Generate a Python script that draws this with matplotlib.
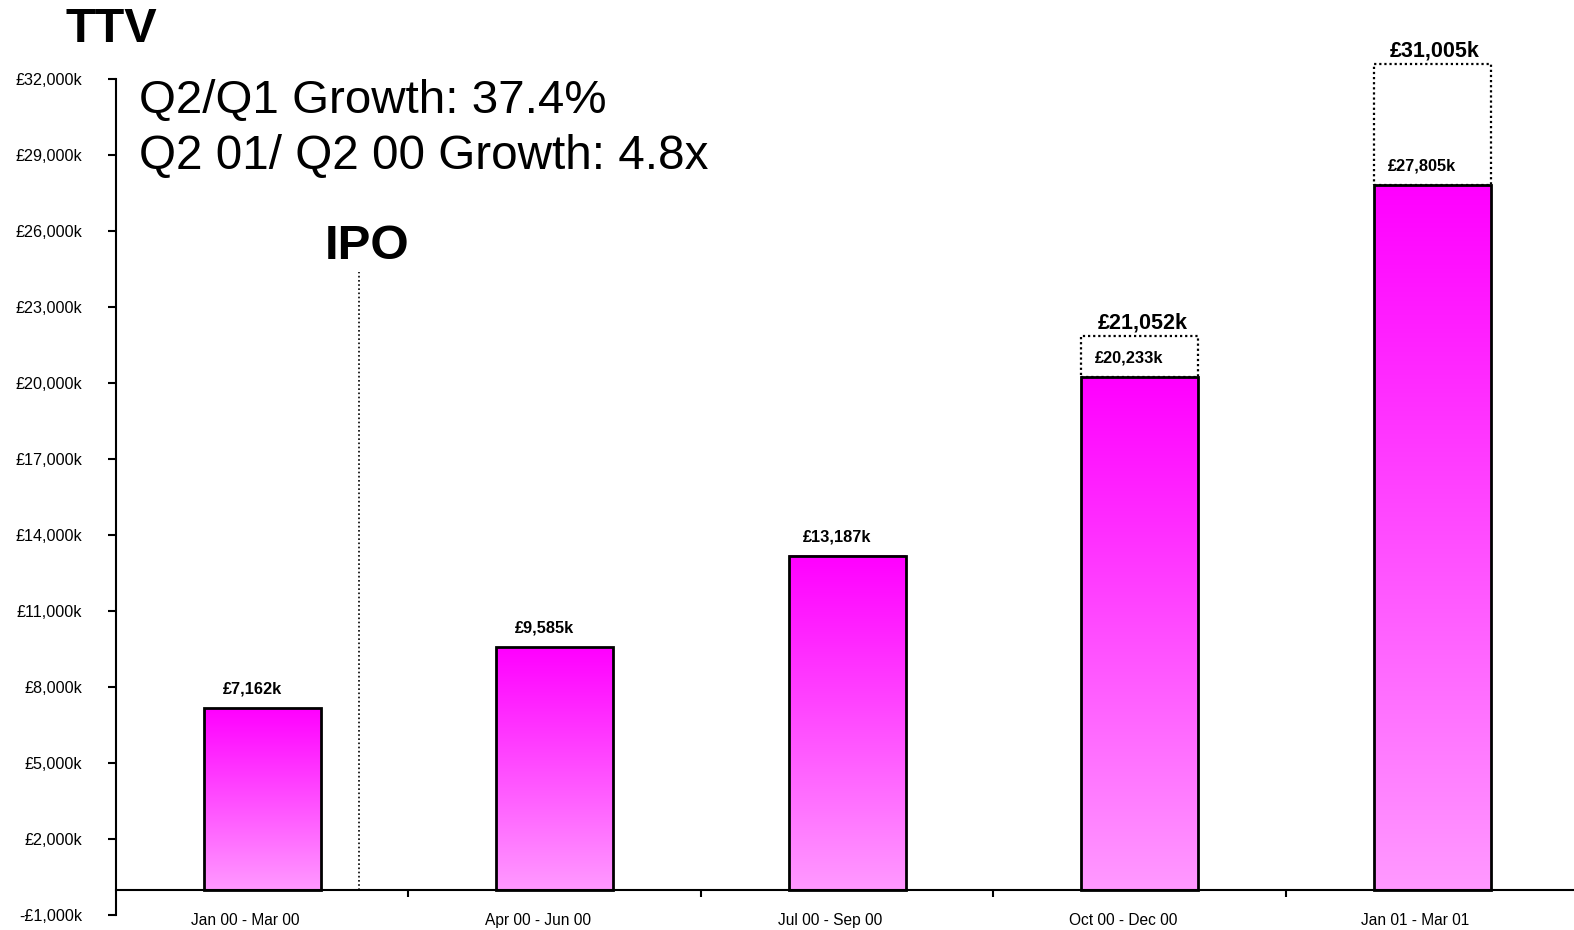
import numpy as np
import matplotlib
matplotlib.use('Agg')
import matplotlib.pyplot as plt
from matplotlib.colors import LinearSegmentedColormap
from matplotlib.patches import Rectangle

plt.rcParams['font.family'] = ['Liberation Sans', 'DejaVu Sans']

quarters = ['Jan 00 - Mar 00', 'Apr 00 - Jun 00', 'Jul 00 - Sep 00',
            'Oct 00 - Dec 00', 'Jan 01 - Mar 01']
ttv = [7162, 9585, 13187, 20233, 27805]
# dotted "projected" boxes (drawn taller than scale in the original)
proj_idx = [3, 4]
proj_vals = [21052, 31005]
proj_top = [21850, 32600]
ipo_x = 0.33
ipo_top = 24400
yticks = np.arange(-1000, 32001, 3000)

fig = plt.figure(figsize=(15.74, 9.30), dpi=100)
ax = fig.add_axes([116/1574, 1 - 915/930, 1462.5/1574, 836/930])
ax.set_xlim(-0.5, 4.5)
ax.set_ylim(-1000, 32000)

cmap = LinearSegmentedColormap.from_list('pk', ['#ff99ff', '#ff00ff'])
grad = np.linspace(0, 1, 256).reshape(-1, 1)
w = 0.4
for i, v in enumerate(ttv):
    ax.imshow(grad, cmap=cmap, origin='lower', aspect='auto',
              extent=[i - w/2, i + w/2, 0, v], zorder=2)
    ax.add_patch(Rectangle((i - w/2, 0), w, v, fill=False, ec='black',
                           lw=2, zorder=3))
    ax.text(i - 0.035, v + 450, '£{:,}k'.format(v), ha='center', va='bottom',
            fontsize=11.8, fontweight='bold', zorder=5)

for i, val, top in zip(proj_idx, proj_vals, proj_top):
    ax.add_patch(Rectangle((i - w/2, ttv[i]), w, top - ttv[i], fill=False,
                           ec='black', lw=1.6, ls=(0, (1, 1.3)), zorder=4,
                           clip_on=False))
    ax.text(i + 0.01, top + 90, '£{:,}k'.format(val), ha='center',
            va='bottom', fontsize=15.5, fontweight='bold', zorder=5,
            clip_on=False)

ax.plot([ipo_x, ipo_x], [0, ipo_top], color='black', lw=1.2,
        ls=(0, (1, 1.5)), zorder=1)
ax.text(ipo_x + 0.03, ipo_top + 110, 'IPO', ha='center', va='bottom',
        fontsize=35.5, fontweight='bold')

ax.set_xlim(-0.5, 4.5)
ax.set_ylim(-1000, 32000)
ax.spines['top'].set_visible(False)
ax.spines['right'].set_visible(False)
ax.spines['bottom'].set_position(('data', 0))
ax.spines['bottom'].set_linewidth(1.5)
ax.spines['left'].set_linewidth(1.5)

ax.set_yticks(yticks)
ax.set_yticklabels(['-£{:,}k'.format(-t) if t < 0 else '£{:,}k'.format(t)
                    for t in yticks], fontsize=11.6)
ax.tick_params(axis='y', length=5.5, width=1.5, pad=19)

ax.set_xticks(np.arange(len(quarters)) - 0.058)
ax.set_xticklabels(quarters, fontsize=11.2)
ax.tick_params(axis='x', which='major', length=0, pad=17)
ax.set_xticks(np.arange(0.5, 4.0, 1.0), minor=True)
ax.tick_params(axis='x', which='minor', length=5, width=1.5, direction='out')

fig.text(65/1574, 1 - 30/930, 'TTV', fontsize=35, fontweight='bold',
         va='center', ha='left')
fig.text(139/1574, 1 - 101/930, 'Q2/Q1 Growth: 37.4%', fontsize=34.2,
         va='center', ha='left')
fig.text(139/1574, 1 - 156/930, 'Q2 01/ Q2 00 Growth: 4.8x', fontsize=34.3,
         va='center', ha='left')

fig.savefig('out.png', dpi=100)
